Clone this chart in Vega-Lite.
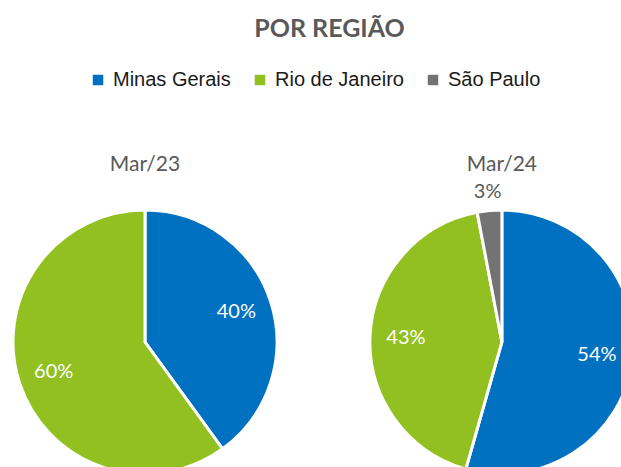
{
  "$schema": "https://vega.github.io/schema/vega-lite/v6.json",
  "width": 621,
  "height": 427,
  "autosize": {"type": "none"},
  "padding": {"top": 40, "left": 0, "right": 0, "bottom": 0},
  "background": "white",
  "title": {"text": "POR REGIÃO", "font": "Lato", "fontSize": 25, "fontWeight": "bold", "color": "#595959", "anchor": "middle", "dx": 19, "offset": -2},
  "config": {"view": {"stroke": null}},
  "datasets": {
    "shares": [
      {"periodo": "Mar/23", "regiao": "Minas Gerais", "valor": 0.40},
      {"periodo": "Mar/23", "regiao": "Rio de Janeiro", "valor": 0.60},
      {"periodo": "Mar/24", "regiao": "Minas Gerais", "valor": 0.544},
      {"periodo": "Mar/24", "regiao": "Rio de Janeiro", "valor": 0.426},
      {"periodo": "Mar/24", "regiao": "São Paulo", "valor": 0.03}
    ],
    "periodos": [{"periodo": "Mar/23"}, {"periodo": "Mar/24"}]
  },
  "data": {"name": "shares"},
  "encoding": {
    "x": {"field": "periodo", "type": "nominal", "scale": {"type": "point", "domain": ["Mar/23", "Mar/24"], "padding": 0.37, "align": 0.549}, "axis": null},
    "y": {"datum": 0, "type": "quantitative", "scale": {"domain": [-0.2927, 0.7073]}, "axis": null}
  },
  "layer": [
    {
      "transform": [{"filter": "datum.periodo == 'Mar/23'"}],
      "mark": {"type": "arc", "outerRadius": 132, "stroke": "white", "strokeWidth": 3},
      "encoding": {
        "theta": {"field": "valor", "type": "quantitative", "stack": true, "scale": {"domain": [0, 1]}},
        "order": {"field": "regiao", "type": "ordinal", "sort": "ascending"},
        "color": {
          "field": "regiao", "type": "nominal",
          "scale": {"domain": ["Minas Gerais", "Rio de Janeiro", "São Paulo"], "range": ["#0070C0", "#92C020", "#737373"]},
          "legend": {"orient": "none", "legendX": 88, "legendY": 30, "direction": "horizontal", "title": null, "symbolType": "square", "symbolSize": 110, "symbolStrokeWidth": 0, "labelFont": "Liberation Sans", "labelFontSize": 20, "labelColor": "#1a1a1a", "labelOffset": 5, "columnPadding": 19}
        }
      }
    },
    {
      "transform": [{"filter": "datum.periodo == 'Mar/24'"}],
      "mark": {"type": "arc", "outerRadius": 132, "stroke": "white", "strokeWidth": 3},
      "encoding": {
        "theta": {"field": "valor", "type": "quantitative", "stack": true, "scale": {"domain": [0, 1]}},
        "order": {"field": "regiao", "type": "ordinal", "sort": "ascending"},
        "color": {"field": "regiao", "type": "nominal"}
      }
    },
    {
      "transform": [{"filter": "datum.periodo == 'Mar/23'"}],
      "mark": {"type": "text", "radius": 96, "font": "Lato", "fontSize": 20, "fill": "white"},
      "encoding": {
        "theta": {"field": "valor", "type": "quantitative", "stack": true, "scale": {"domain": [0, 1]}},
        "order": {"field": "regiao", "type": "ordinal", "sort": "ascending"},
        "detail": {"field": "regiao"},
        "text": {"condition": {"test": "datum.valor >= 0.05", "field": "valor", "type": "quantitative", "format": ".0%"}, "value": ""}
      }
    },
    {
      "transform": [{"filter": "datum.periodo == 'Mar/24'"}],
      "mark": {"type": "text", "radius": 96, "font": "Lato", "fontSize": 20, "fill": "white"},
      "encoding": {
        "theta": {"field": "valor", "type": "quantitative", "stack": true, "scale": {"domain": [0, 1]}},
        "order": {"field": "regiao", "type": "ordinal", "sort": "ascending"},
        "detail": {"field": "regiao"},
        "text": {"condition": {"test": "datum.valor >= 0.05", "field": "valor", "type": "quantitative", "format": ".0%"}, "value": ""}
      }
    },
    {
      "transform": [{"filter": "datum.periodo == 'Mar/24'"}],
      "mark": {"type": "text", "radius": 151, "font": "Lato", "fontSize": 20, "fill": "#595959"},
      "encoding": {
        "theta": {"field": "valor", "type": "quantitative", "stack": true, "scale": {"domain": [0, 1]}},
        "order": {"field": "regiao", "type": "ordinal", "sort": "ascending"},
        "detail": {"field": "regiao"},
        "text": {"condition": {"test": "datum.valor < 0.05", "field": "valor", "type": "quantitative", "format": ".0%"}, "value": ""}
      }
    },
    {
      "data": {"name": "periodos"},
      "mark": {"type": "text", "dy": -177, "font": "Lato", "fontSize": 21, "fill": "#595959"},
      "encoding": {"text": {"field": "periodo", "type": "nominal"}}
    }
  ]
}
